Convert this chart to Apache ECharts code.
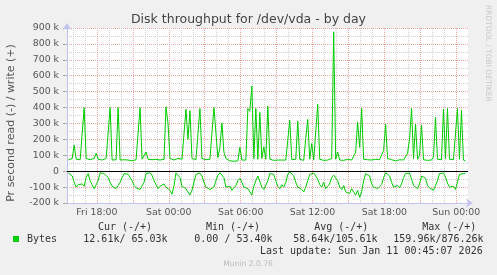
<!DOCTYPE html>
<html><head><meta charset="utf-8">
<script src="https://cdn.jsdelivr.net/npm/echarts@6/dist/echarts.min.js"></script>
<style>html,body{margin:0;padding:0;background:#F0F0F0;}#c{width:497px;height:275px;}</style>
</head><body><div id="c"></div>
<script>
const chartTitle = 'Disk throughput for /dev/vda - by day';
const yAxisTitle = 'Pr second read (-) / write (+)';
const sideText = 'RRDTOOL / TOBI OETIKER';
const footerText = 'Munin 2.0.76';
const startHour = 15.6;      // Fri 15:36, hours counted from Fri 00:00
const stepHours = 1 / 6;     // one sample every 10 minutes
const xTickHours = [18, 24, 30, 36, 42, 48];
const xTickLabels = ['Fri 18:00', 'Sat 00:00', 'Sat 06:00', 'Sat 12:00', 'Sat 18:00', 'Sun 00:00'];
// write bytes/s (k), plotted upward
const writeK = [
 70,75,80,164,75,70,72,78,400,80,
 75,72,70,80,113,75,72,70,75,80,
 72,400,70,75,72,400,70,68,72,80,
 70,75,65,70,72,70,400,75,70,120,
 75,70,72,68,75,80,70,72,75,405,
 300,80,75,70,72,80,70,75,80,390,
 200,380,80,70,72,75,394,80,70,72,
 68,75,80,400,405,85,150,304,120,80,
 70,65,60,62,70,65,150,70,65,70,
 394,377,535,80,394,75,369,80,153,75,
 409,75,70,68,72,70,75,70,65,70,
 68,320,72,70,75,314,75,70,68,207,
 325,75,174,70,68,421,75,70,68,72,
 70,65,80,876,75,121,70,72,68,70,
 75,72,70,80,120,310,150,394,75,70,
 72,68,70,72,75,70,72,68,130,296,
 80,70,72,68,65,70,72,68,70,80,
 113,200,394,80,296,75,100,290,72,70,
 68,72,70,90,338,75,70,72,390,80,
 394,75,70,72,80,394,75,382,70,65
];
// read bytes/s (k), plotted downward
const readK = [
 10,12,30,70,100,85,90,80,95,40,
 15,60,85,110,120,60,10,8,15,25,
 40,70,95,105,110,90,70,40,15,8,
 20,30,60,90,105,95,115,120,70,15,
 8,10,25,60,85,110,95,105,80,100,
 95,120,145,90,10,12,40,95,100,110,
 130,150,120,70,20,10,12,30,70,100,
 90,115,125,100,60,25,10,8,40,100,
 110,95,120,105,90,60,45,70,100,95,
 110,100,150,95,60,30,40,100,115,105,
 60,15,8,20,60,95,110,85,100,70,
 20,5,8,30,70,100,95,115,130,100,
 60,20,10,12,15,50,85,100,70,110,
 95,80,40,25,20,60,100,115,90,130,
 120,140,110,130,150,120,165,130,60,15,
 10,30,80,100,95,110,100,85,40,10,
 12,30,70,100,110,90,105,80,40,15,
 10,12,50,90,100,110,80,30,20,45,
 90,105,95,120,115,60,15,10,12,35,
 75,100,110,95,115,70,20,10,15,13
];
const legendName = 'Bytes';
const legendHeaders = ['Cur (-/+)', 'Min (-/+)', 'Avg (-/+)', 'Max (-/+)'];
const legendValues = ['12.61k/ 65.03k', '0.00 / 53.40k', '58.64k/105.61k', '159.96k/876.26k'];
const lastUpdate = 'Last update: Sun Jan 11 00:45:07 2026';

const GREEN = '#00CC00';
const RED_GRID = '#EFA3A3';
const GRAY_GRID = '#CFCFCF';
const AXIS = '#C4C4F2';
const TXT = '#555555';
const MONO = '"DejaVu Sans Mono", monospace';
const SANS = '"DejaVu Sans", sans-serif';

function txt(x, y, text, opts) {
  const s = Object.assign({
    text: text, fill: TXT, fontSize: 10, fontFamily: MONO,
    align: 'left', textAlign: 'left', verticalAlign: 'middle', textVerticalAlign: 'middle'
  }, opts || {});
  if (s.align) s.textAlign = s.align;
  return { type: 'text', x: x, y: y, rotation: (opts && opts.rot) || 0, silent: true, style: s };
}

const headerX = [125, 233, 341.3, 449.3];
const valueX = [83.3, 194.3, 293.3, 393.3];
const graphics = [
  txt(248.5, 19.5, chartTitle, { fontFamily: SANS, fontSize: 12.5, align: 'center', fill: '#444' }),
  txt(11, 123, yAxisTitle, { fontFamily: SANS, fontSize: 11, align: 'center', rot: Math.PI / 2 }),
  txt(487.7, 53.3, sideText, { fontFamily: SANS, fontSize: 7.5, align: 'center', fill: '#C8C8C8', rot: -Math.PI / 2 }),
  txt(248, 264, footerText, { fontFamily: SANS, fontSize: 7.6, align: 'center', fill: '#BBBBBB' }),
  txt(482.7, 251.7, lastUpdate, { align: 'right', fill: '#333' })
];
legendHeaders.forEach((h, i) => graphics.push(txt(headerX[i], 227.3, h, { align: 'center', fill: '#333' })));
legendValues.forEach((v, i) => graphics.push(txt(valueX[i], 239.7, v, { fill: '#333' })));

const chart = echarts.init(document.getElementById('c'), null, { renderer: 'canvas' });
chart.setOption({
  animation: false,
  backgroundColor: '#F0F0F0',
  grid: { left: 67, right: 29, top: 28, bottom: 72, show: true, backgroundColor: '#FFFFFF', borderWidth: 0 },
  legend: {
    data: [legendName], left: 13, top: 234, icon: 'rect', itemWidth: 6, itemHeight: 6,
    selectedMode: false, padding: 0,
    textStyle: { fontFamily: MONO, fontSize: 10, color: '#333', padding: [0, 0, 0, 3] }
  },
  xAxis: {
    type: 'value', min: 15.5, max: 48.98, interval: 0.5,
    axisLine: { show: true, onZero: false, lineStyle: { color: AXIS }, symbol: ['none', 'arrow'], symbolSize: [7, 7], symbolOffset: [0, 5] },
    axisTick: { show: false },
    axisLabel: {
      margin: 5, fontSize: 9.4, color: TXT, fontFamily: SANS, showMaxLabel: false,
      formatter: function (v) {
        const k = xTickHours.findIndex(h => Math.abs(h - v) < 1e-6);
        return k >= 0 ? xTickLabels[k] : '';
      }
    },
    splitLine: {
      show: true, showMaxLine: false,
      lineStyle: { type: 'dotted', width: 1, color: ['rgba(0,0,0,0)', GRAY_GRID, 'rgba(0,0,0,0)', GRAY_GRID, 'rgba(0,0,0,0)', RED_GRID] }
    }
  },
  yAxis: {
    type: 'value', min: -200000, max: 900000, interval: 100000,
    axisLine: { show: true, onZero: false, lineStyle: { color: AXIS }, symbol: ['none', 'arrow'], symbolSize: [7, 7], symbolOffset: [0, 5] },
    axisTick: { show: true, length: 4, lineStyle: { color: '#AAAAAA' } },
    axisLabel: {
      margin: 8, fontSize: 9.4, color: TXT, fontFamily: SANS,
      formatter: v => (v === 0 ? '0' : (v / 1000) + ' k')
    },
    splitLine: { show: true, lineStyle: { type: 'dotted', width: 1, color: RED_GRID } },
    minorTick: { show: false, splitNumber: 2 },
    minorSplitLine: { show: true, lineStyle: { type: 'dotted', width: 1, color: GRAY_GRID } }
  },
  series: [
    {
      name: legendName, type: 'line', symbol: 'none', showSymbol: false,
      data: writeK.map((v, i) => [startHour + i * stepHours, v * 1000]),
      lineStyle: { color: GREEN, width: 1 }, itemStyle: { color: GREEN },
      markLine: {
        silent: true, symbol: ['none', 'none'], label: { show: false },
        lineStyle: { color: '#000000', type: 'solid', width: 1.2 },
        data: [{ yAxis: 0 }]
      }, z: 3
    },
    {
      name: legendName, type: 'line', symbol: 'none', showSymbol: false,
      data: readK.map((v, i) => [startHour + i * stepHours, -v * 1000]),
      lineStyle: { color: GREEN, width: 1 }, itemStyle: { color: GREEN }, z: 2
    }
  ],
  graphic: graphics
});
</script>
</body></html>
